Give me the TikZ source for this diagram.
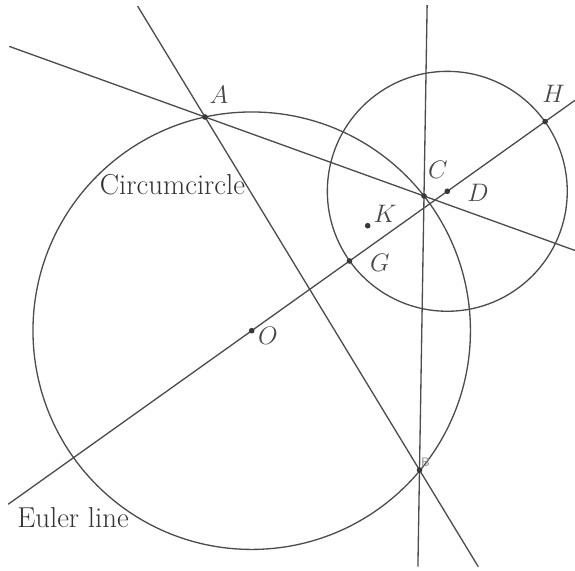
\documentclass[tikz,border=0pt]{standalone}
\usepackage{amsmath}
\usepackage{tikz}
\usetikzlibrary{calc}

\begin{document}
\begin{tikzpicture}[
    x=0.02cm, y=-0.02cm,
    geo/.style={line width=0.75pt, black!70},
    ptlabel/.style={font=\fontsize{14.5}{17}\selectfont, text=black!72},
    txtlabel/.style={font=\fontsize{16.4}{19}\selectfont, text=black!80},
    tinylabel/.style={font=\sffamily\fontsize{7}{8}\selectfont, text=black!45},
]
\useasboundingbox (0,0) rectangle (575,571);

%% ========== TRIANGLE AND CENTRES ==========
\coordinate (A) at (205,117);
\coordinate (B) at (419.5,470);
\coordinate (C) at (424,196);
\coordinate (O) at (251.7,330.7);
\coordinate (G) at ($ {1/3}*(A) + {1/3}*(B) + {1/3}*(C) $);
\coordinate (H) at ($ (A) + (B) + (C) - 2*(O) $);
\coordinate (D) at ($(G)!0.5!(H)$);
\coordinate (K) at (367.7,225.7);

%% ========== LINE END POINTS ==========
\coordinate (acL) at ($(A)!-0.894!(C)$);
\coordinate (acR) at ($(A)!1.69!(C)$);
\coordinate (abT) at ($(A)!-0.314!(B)$);
\coordinate (abB) at ($(A)!1.274!(B)$);
\coordinate (cbT) at ($(C)!-0.697!(B)$);
\coordinate (cbB) at ($(C)!1.353!(B)$);
\coordinate (euL) at ($(O)!-0.83!(H)$);
\coordinate (euR) at ($(O)!1.102!(H)$);

%% ========== LINES ==========
\draw[geo] (acL) -- (acR);
\draw[geo] (abT) -- (abB);
\draw[geo] (cbT) -- (cbB);
\draw[geo] (euL) -- (euR);

%% ========== CIRCLES ==========
\draw[geo] let \p1 = ($(A)-(O)$) in (O) circle ({veclen(\x1,\y1)});
\draw[geo] let \p1 = ($(H)-(D)$) in (D) circle ({veclen(\x1,\y1)});

%% ========== POINTS ==========
\foreach \p in {A,B,C,D,G,H,K,O}
    \fill[black!78] (\p) circle[radius=1.6pt];

%% ========== LABELS ==========
\node[ptlabel] (labA) at (219,95) {$A$};
\node[ptlabel] (labC) at (438,170) {$C$};
\node[ptlabel] (labD) at (478,193) {$D$};
\node[ptlabel] (labH) at (553.5,94) {$H$};
\node[ptlabel] (labK) at (385,214) {$K$};
\node[ptlabel] (labG) at (380,263) {$G$};
\node[ptlabel] (labO) at (268,335.5) {$O$};
\node[tinylabel] (labB) at (425.5,462.5) {B};
\node[txtlabel] (labCirc) at (172.5,185) {Circumcircle};
\node[txtlabel] (labEuler) at (73,518) {Euler line};
\end{tikzpicture}
\end{document}
